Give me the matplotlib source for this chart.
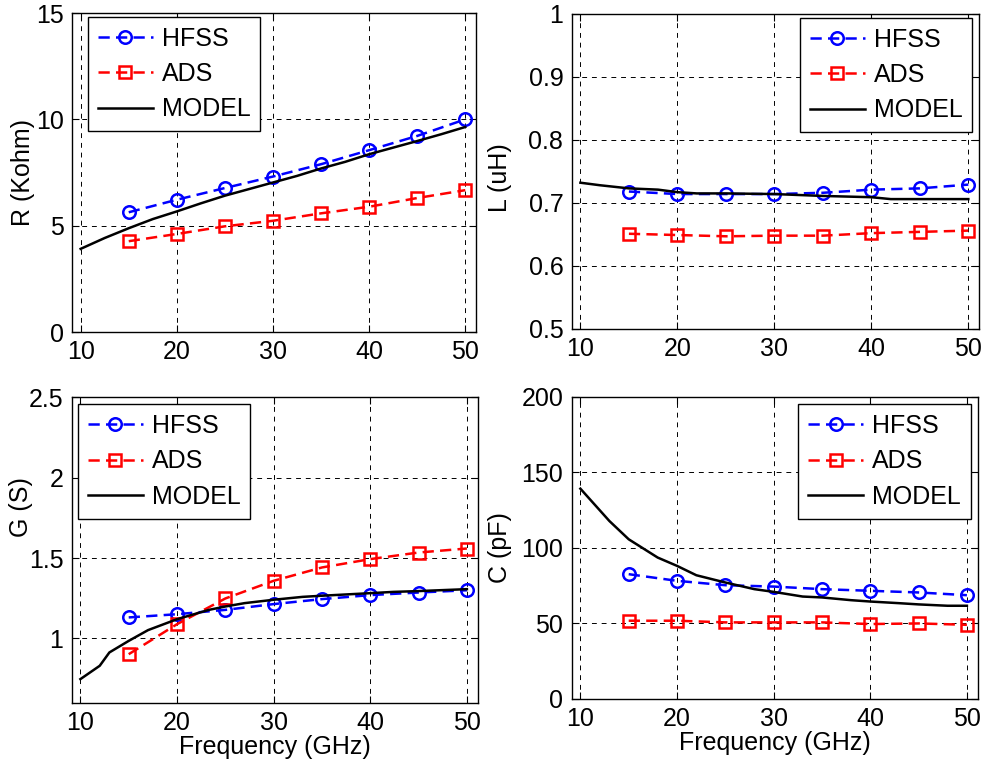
import matplotlib
matplotlib.use("Agg")
import matplotlib.pyplot as plt
from matplotlib.ticker import FuncFormatter

plt.rcParams['font.family'] = ['Liberation Sans', 'DejaVu Sans']
plt.rcParams['font.size'] = 18

# sample frequencies (GHz)
freq = [15, 20, 25, 30, 35, 40, 45, 50]

# R (Kohm)
r_hfss = [5.63, 6.22, 6.77, 7.31, 7.89, 8.55, 9.22, 10.0]
r_ads = [4.27, 4.61, 4.97, 5.23, 5.58, 5.89, 6.30, 6.67]
r_model_f = [10, 12.5, 15, 17.5, 20, 22.5, 25, 27.5, 30, 32.5, 35, 37.5, 40, 42.5, 45, 47.5, 50]
r_model = [3.91, 4.42, 4.88, 5.31, 5.67, 6.05, 6.41, 6.72, 7.03, 7.34, 7.69, 8.0, 8.36, 8.67, 8.98, 9.3, 9.64]

# L (uH)
l_hfss = [0.718, 0.714, 0.714, 0.714, 0.716, 0.721, 0.723, 0.729]
l_ads = [0.651, 0.649, 0.647, 0.648, 0.648, 0.652, 0.654, 0.656]
l_model_f = [10, 12, 15, 18, 20, 22, 25, 30, 35, 40, 42, 45, 50]
l_model = [0.732, 0.728, 0.723, 0.721, 0.717, 0.715, 0.715, 0.714, 0.711, 0.709, 0.706, 0.706, 0.706]

# G (S)
g_hfss = [1.131, 1.151, 1.178, 1.214, 1.245, 1.27, 1.286, 1.30]
g_ads = [0.902, 1.089, 1.249, 1.359, 1.442, 1.494, 1.535, 1.56]
g_model_f = [10, 12, 13, 15, 17, 20, 23.3, 25, 27, 30, 33, 35, 40, 42.4, 45, 50]
g_model = [0.747, 0.83, 0.913, 0.985, 1.052, 1.12, 1.178, 1.199, 1.22, 1.241, 1.259, 1.266, 1.282, 1.29, 1.295, 1.307]

# C (pF)
c_hfss = [82.6, 78.2, 75.3, 74.4, 72.7, 71.6, 70.5, 68.7]
c_ads = [51.8, 51.8, 50.7, 50.7, 50.7, 49.6, 50.0, 49.1]
c_model_f = [10, 13, 15, 18, 20, 22, 25, 28, 30, 33, 35, 38, 40, 43, 45, 48, 50]
c_model = [139.2, 117.8, 105.7, 93.6, 88.1, 81.9, 77.1, 72.7, 70.9, 67.8, 67.2, 65.4, 64.5, 63.4, 62.6, 61.7, 61.7]

panels = [
    # rect, hfss, ads, model_f, model, ylabel, ylim, yticks, legend loc, legend anchor, ylabel pos, xlabel
    ([0.0731, 0.566, 0.410, 0.417], r_hfss, r_ads, r_model_f, r_model, 'R (Kohm)', (0, 15),
     [0, 5, 10, 15], 'upper left', (0.0396, 0.9875), (-0.092, 0.5), False),
    ([0.5804, 0.570, 0.4135, 0.412], l_hfss, l_ads, l_model_f, l_model, 'L (uH)', (0.5, 1.0),
     [0.5, 0.6, 0.7, 0.8, 0.9, 1.0], 'upper right', (0.9836, 0.987), (-0.147, 0.48), False),
    ([0.0728, 0.0814, 0.412, 0.399], g_hfss, g_ads, g_model_f, g_model, 'G (S)', (0.6, 2.5),
     [1, 1.5, 2, 2.5], 'upper left', (0.0155, 0.978), (-0.095, 0.64), True),
    ([0.5804, 0.0863, 0.412, 0.395], c_hfss, c_ads, c_model_f, c_model, 'C (pF)', (0, 200),
     [0, 50, 100, 150, 200], 'upper right', (0.9835, 0.976), (-0.147, 0.5), True),
]

fig = plt.figure(figsize=(9.85, 7.65), dpi=100)

for rect, hfss, ads, mf, model, ylab, ylim, yticks, loc, anchor, ylpos, show_x in panels:
    ax = fig.add_axes(rect)
    ax.plot(freq, hfss, linestyle=(0, (4.5, 2.5)), color='blue', lw=1.8, marker='o',
            markersize=9, markerfacecolor='none', markeredgewidth=1.8, label='HFSS')
    ax.plot(freq, ads, linestyle=(0, (4.5, 2.5)), color='red', lw=1.8, marker='s',
            markersize=9, markerfacecolor='none', markeredgewidth=1.8, label='ADS')
    ax.plot(mf, model, '-', color='black', lw=1.8, label='MODEL')
    ax.set_xlim(9.1, 51.1)
    ax.set_ylim(*ylim)
    ax.set_xticks([10, 20, 30, 40, 50])
    ax.set_yticks(yticks)
    ax.yaxis.set_major_formatter(FuncFormatter(lambda v, p: '%g' % v))
    ax.grid(True, color='black', linestyle=(0, (5, 5)), linewidth=0.7)
    ax.tick_params(direction='in', top=True, right=True, length=5, width=0.8, pad=6)
    for sp in ax.spines.values():
        sp.set_linewidth(1.0)
    ax.set_ylabel(ylab)
    ax.yaxis.set_label_coords(*ylpos)
    if show_x:
        ax.set_xlabel('Frequency (GHz)', labelpad=0)
    leg = ax.legend(loc=loc, bbox_to_anchor=anchor, numpoints=1, fancybox=False,
                    framealpha=1, edgecolor='black', handlelength=2.2,
                    borderaxespad=0, labelspacing=0.45, borderpad=0.4,
                    handletextpad=0.35)
    leg.get_frame().set_linewidth(1.0)

fig.savefig('out.png', dpi=100)
